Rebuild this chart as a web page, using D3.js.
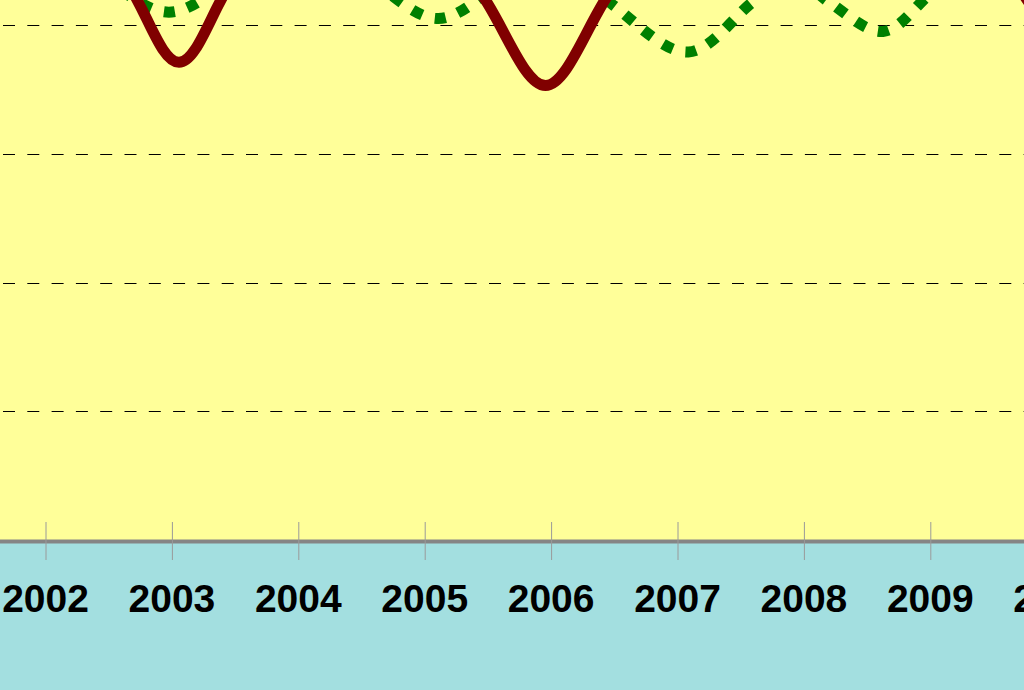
<!DOCTYPE html>
<html><head><meta charset="utf-8">
<script src="https://cdn.jsdelivr.net/npm/d3@7"></script>
<style>html,body{margin:0;padding:0;background:#a3dfe0;}svg{display:block;}</style>
</head><body>
<svg id="c" width="1024" height="690"></svg>
<script>
// tick labels (years)
const years = [2002, 2003, 2004, 2005, 2006, 2007, 2008, 2009, 2010];
// solid dark-red series (decimal year, value)
const redYears  = [2001.3, 2001.8, 2002.6, 2003.06, 2003.52, 2004.3, 2004.9, 2005.46, 2005.96, 2006.46, 2007.0, 2008.0, 2009.2, 2009.7, 2010.2, 2010.7];
const redValues = [48,     52,     44,     37.1,    44,      52,     50,     42.3,    35.3,    42.4,    50,     53,     49,     42.9,   37,     42];
// dotted green series (decimal year, value)
const greenYears  = [2001.5, 2001.98, 2002.48, 2002.98, 2003.48, 2004.05, 2004.61, 2005.11, 2005.61, 2006.0, 2006.5, 2007.09, 2007.6, 2007.9, 2008.2, 2008.63, 2009.0, 2009.5, 2010.2, 2010.7];
const greenValues = [47,     48,      43.6,    41.0,    43.6,    48,      43.3,    40.5,    43.3,    46,     41.5,   37.9,    41.8,   44,     41.8,   39.5,    42.4,   47,     47,     46];
// horizontal grid values
const gridValues = [10, 20, 30, 40];

const W = 1024, H = 690, plotBottom = 540;
const svg = d3.select('#c');
const x = d3.scaleLinear().domain([2002, 2009]).range([45, 929.8]);
const y = d3.scaleLinear().domain([0, 40]).range([plotBottom, 25]);

svg.append('rect').attr('x', 0).attr('y', 0).attr('width', W).attr('height', H).attr('fill', '#a3dfe0');
svg.append('rect').attr('x', 0).attr('y', 0).attr('width', W).attr('height', plotBottom).attr('fill', '#ffff99');

svg.append('clipPath').attr('id', 'clip').append('rect')
  .attr('x', 0).attr('y', 0).attr('width', W).attr('height', plotBottom);

// grid
svg.append('g').selectAll('line').data(gridValues).join('line')
  .attr('x1', 0).attr('x2', W)
  .attr('y1', d => Math.round(y(d)) + 0.5).attr('y2', d => Math.round(y(d)) + 0.5)
  .attr('stroke', '#000').attr('stroke-width', 1)
  .attr('stroke-dasharray', '12,12.3').attr('stroke-dashoffset', -3);

const g = svg.append('g').attr('clip-path', 'url(#clip)');
const line = d3.line().x(d => x(d[0])).y(d => y(d[1])).curve(d3.curveCatmullRom.alpha(0.5));

g.append('path').datum(greenYears.map((s, i) => [s, greenValues[i]]))
  .attr('d', line).attr('fill', 'none').attr('stroke', '#008000')
  .attr('stroke-width', 11).attr('stroke-dasharray', '11,13').attr('stroke-linecap', 'butt');

g.append('path').datum(redYears.map((s, i) => [s, redValues[i]]))
  .attr('d', line).attr('fill', 'none').attr('stroke', '#800000')
  .attr('stroke-width', 11).attr('stroke-linejoin', 'round');

// axis baseline
svg.append('line').attr('x1', 0).attr('x2', W).attr('y1', 541.5).attr('y2', 541.5)
  .attr('stroke', '#858585').attr('stroke-width', 4);

// x axis ticks + labels
const axis = d3.axisBottom(x).tickValues(years).tickFormat(d3.format('d')).tickSize(0).tickPadding(0);
const ag = svg.append('g').call(axis);
ag.select('.domain').remove();
ag.selectAll('.tick').append('line').attr('y1', 522).attr('y2', 560)
  .attr('stroke', '#9a9a9a').attr('stroke-width', 1).attr('x1', 0.5).attr('x2', 0.5);
ag.selectAll('.tick text').attr('y', 612).attr('dy', null)
  .attr('fill', '#000').attr('font-family', 'Liberation Sans, Arial, sans-serif')
  .attr('font-weight', 'bold').attr('font-size', 39).attr('text-anchor', 'middle');
</script>
</body></html>
